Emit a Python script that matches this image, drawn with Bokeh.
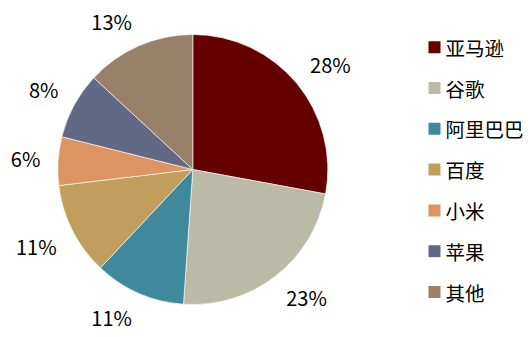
import math
from bokeh.plotting import figure
from bokeh.models import Range1d, ColumnDataSource
from bokeh.core.properties import value
from bokeh.embed import file_html
from bokeh.resources import INLINE

# ---- data ----
categories = ["亚马逊", "谷歌", "阿里巴巴", "百度", "小米", "苹果", "其他"]
shares = [27.9, 23.2, 10.9, 11.1, 5.8, 8.0, 13.1]
colors = ["#660000", "#BBBAA7", "#3E8A9C", "#C09F5E", "#DD9461", "#636985", "#998068"]

# ---- layout / style ----
W, H = 531, 337
CX, CY = 192.3, 169.0      # pie centre (screen px)
R = 135.0
FONT = "Noto Sans CJK SC"
FS = "20px"

def up(y):
    return H - y

total = float(sum(shares))
starts, ends, labels, lx, ly = [], [], [], [], []
cum = 0.0
for v in shares:
    a0 = cum / total
    cum += v
    a1 = cum / total
    starts.append(math.pi / 2 - 2 * math.pi * a0)
    ends.append(math.pi / 2 - 2 * math.pi * a1)
    mid = 2 * math.pi * (a0 + a1) / 2          # clockwise from top
    ux, uy = math.sin(mid), -math.cos(mid)      # screen direction
    txt = "%d%%" % round(v / total * 100)
    labels.append(txt)
    w = 11 * (len(txt) - 1) + 18
    h = 15
    d = R + 18
    k = 3.0
    ax, ay = CX + d * ux, CY + d * uy
    ox = w / 2 * max(-1, min(1, ux * k))
    oy = h / 2 * max(-1, min(1, uy * k))
    lx.append(ax + ox)
    ly.append(up(ay + oy))

src = ColumnDataSource(dict(start=starts, end=ends, color=colors, cat=categories))

p = figure(width=W, height=H, output_backend="svg", toolbar_location=None,
           x_range=Range1d(0, W), y_range=Range1d(0, H),
           min_border=0, outline_line_color=None)
p.axis.visible = False
p.grid.visible = False
p.background_fill_color = "white"
p.border_fill_color = "white"

p.wedge(x=CX, y=up(CY), radius=R, start_angle="start", end_angle="end",
        direction="clock", fill_color="color", line_color="white",
        line_width=0.6, source=src)

p.text(x=lx, y=ly, text=labels, text_align="center", text_baseline="middle",
       text_font=value(FONT), text_font_size=FS, text_color="#000000")

# legend (drawn from categories/colors)
row0, step = 46.7, 40.8
ys = [up(row0 + i * step) for i in range(len(categories))]
p.rect(x=[434] * len(categories), y=ys, width=12, height=12,
       fill_color=colors, line_color=None)
p.text(x=[445] * len(categories), y=ys, text=categories, text_align="left",
       text_baseline="middle", text_font=value(FONT), text_font_size="19.5px",
       text_color="#000000")

open("out.html", "w").write(file_html(p, INLINE))
